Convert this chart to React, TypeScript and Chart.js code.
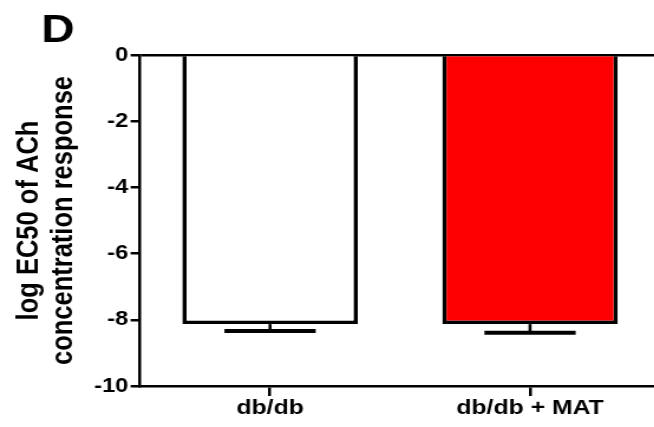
import React, { useEffect, useRef } from "react";
import { Chart, registerables } from "chart.js";

Chart.register(...registerables);

const categories = ["db/db", "db/db + MAT"];
const means = [-8.13, -8.13];
const errors = [0.21, 0.26];
const barColors = ["#ffffff", "#ff0000"];
const yTicks = [0, -2, -4, -6, -8, -10];
const yTitle = ["log EC50 of ACh", "concentration response"];
const panelLabel = "D";

const FONT = "'Liberation Sans', Arial, sans-serif";
// horizontal stretch of the rendering (reference glyphs are wider than tall)
const K = 1.18;
const OUT_W = 660;
const OUT_H = 427;
const IN_W = Math.round(OUT_W / K);

const errorBarPlugin = {
  id: "errorBars",
  afterDatasetsDraw(chart: any) {
    const ctx = chart.ctx;
    const meta = chart.getDatasetMeta(0);
    const y = chart.scales.y;
    ctx.save();
    ctx.strokeStyle = "#000";
    meta.data.forEach((bar: any, i: number) => {
      const yEnd = y.getPixelForValue(means[i] - errors[i]);
      const half = bar.width * 0.26;
      ctx.lineWidth = 2.6;
      ctx.beginPath();
      ctx.moveTo(bar.x, bar.y);
      ctx.lineTo(bar.x, yEnd);
      ctx.stroke();
      ctx.lineWidth = 4;
      ctx.beginPath();
      ctx.moveTo(bar.x - half, yEnd);
      ctx.lineTo(bar.x + half, yEnd);
      ctx.stroke();
    });
    ctx.restore();
  },
};

const panelPlugin = {
  id: "panelLabel",
  afterDraw(chart: any) {
    const ctx = chart.ctx;
    ctx.save();
    ctx.fillStyle = "#000";
    ctx.font = `bold 39px ${FONT}`;
    ctx.textBaseline = "alphabetic";
    ctx.textAlign = "left";
    ctx.fillText(panelLabel, 35, 42);
    ctx.restore();
  },
};

export default function App() {
  const ref = useRef<HTMLCanvasElement>(null);
  useEffect(() => {
    document.body.style.margin = "0";
    document.body.style.overflow = "hidden";
    const chart = new Chart(ref.current!, {
      type: "bar",
      data: {
        labels: categories,
        datasets: [
          {
            data: means,
            backgroundColor: barColors,
            borderColor: "#000",
            borderWidth: 3.6,
            borderSkipped: "start",
            categoryPercentage: 1,
            barPercentage: 0.675,
          },
        ],
      },
      options: {
        animation: false,
        responsive: false,
        devicePixelRatio: 1,
        layout: { padding: { top: 55, right: 0, left: 0, bottom: 0 } },
        plugins: { legend: { display: false }, tooltip: { enabled: false } },
        scales: {
          x: {
            offset: true,
            grid: {
              offset: false,
              drawOnChartArea: false,
              color: "#000",
              tickLength: 10,
              lineWidth: 2.5,
            },
            border: { color: "#000", width: 2.5 },
            ticks: {
              color: "#000",
              font: { family: FONT, size: 21, weight: "bold" },
              padding: 0,
              maxRotation: 0,
            },
            afterFit: (s: any) => {
              s.height = 41;
            },
          },
          y: {
            min: -10,
            max: 0,
            afterBuildTicks: (s: any) => {
              s.ticks = yTicks.map((v) => ({ value: v }));
            },
            grid: {
              color: (c: any) => (c.tick && c.tick.value === 0 ? "#000" : "rgba(0,0,0,0)"),
              tickColor: "#000",
              tickLength: 8,
              lineWidth: 2.5,
            },
            border: { color: "#000", width: 2.5 },
            ticks: {
              color: "#000",
              font: { family: FONT, size: 20, weight: "bold" },
              padding: 2,
            },
            title: {
              display: true,
              text: yTitle,
              color: "#000",
              font: { family: FONT, size: 25.5, weight: "bold", lineHeight: 1.13 },
              padding: { top: 11, bottom: 0 },
            },
            afterFit: (s: any) => {
              s.width = 140 / K;
            },
          },
        },
      },
      plugins: [errorBarPlugin, panelPlugin],
    });
    return () => chart.destroy();
  }, []);
  return (
    <div style={{ width: 654, height: 427, overflow: "hidden", position: "relative", background: "#fff" }}>
      <canvas
        ref={ref}
        width={IN_W}
        height={OUT_H}
        style={{ display: "block", width: OUT_W, height: OUT_H }}
      />
    </div>
  );
}
